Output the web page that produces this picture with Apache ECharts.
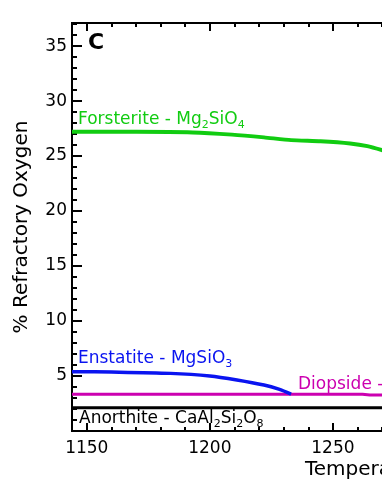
<!DOCTYPE html>
<html>
<head>
<meta charset="utf-8">
<script src="https://cdn.jsdelivr.net/npm/echarts@6/dist/echarts.min.js"></script>
<style>
  html, body { margin: 0; padding: 0; background: #fff; }
  #chart { width: 382px; height: 494px; }
</style>
</head>
<body>
<div id="chart"></div>
<script>
// temperature ticks
var xMajorTicks = [1150, 1200, 1250, 1300]
var xMinorTicks = [1150, 1160, 1170, 1180, 1190, 1200, 1210, 1220, 1230, 1240, 1250, 1260, 1270, 1280, 1290, 1300]
var yMajorTicks = [0, 5, 10, 15, 20, 25, 30, 35]
var yMinorTicks = [0, 1, 2, 3, 4, 5, 6, 7, 8, 9, 10, 11, 12, 13, 14, 15, 16, 17, 18, 19, 20,
  21, 22, 23, 24, 25, 26, 27, 28, 29, 30, 31, 32, 33, 34, 35, 36, 37]

// [temperature, % refractory oxygen]
var forsterite = [[1144, 27.2], [1170, 27.2], [1193, 27.15], [1209, 26.95], [1222, 26.7],
  [1233, 26.45], [1245, 26.35], [1257, 26.15], [1264, 25.9], [1272, 25.4]]
var enstatite = [[1144, 5.39], [1160, 5.36], [1184, 5.24], [1200, 5.0], [1211, 4.64],
  [1222, 4.18], [1228, 3.8], [1233, 3.35]]
var diopside = [[1144, 3.35], [1233, 3.35], [1262, 3.35], [1265, 3.27], [1280, 3.27]]
var anorthite = [[1144, 2.12], [1280, 2.12]]

var FONT = 'DejaVu Sans'
var chart = echarts.init(document.getElementById('chart'))

function xAxisDef(pos, ticks, len, labels) {
  return {
    type: 'value', position: pos, min: 1144, max: 1300,
    axisLine: { show: true, lineStyle: { color: '#000', width: 2 } },
    axisTick: { show: true, inside: true, length: len, customValues: ticks, lineStyle: { color: '#000', width: 2 } },
    axisLabel: labels ? {
      show: true, customValues: xMajorTicks, color: '#000', fontSize: 17, fontFamily: FONT, margin: 9,
      formatter: function (v) { return String(v) }
    } : { show: false },
    splitLine: { show: false }
  }
}
function yAxisDef(ticks, len, labels) {
  return {
    type: 'value', position: 'left', min: 0, max: 37.1,
    axisLine: { show: true, lineStyle: { color: '#000', width: 2 } },
    axisTick: { show: true, inside: true, length: len, customValues: ticks, lineStyle: { color: '#000', width: 2 } },
    axisLabel: labels ? { show: true, customValues: yMajorTicks.slice(1), color: '#000', fontSize: 17, fontFamily: FONT, margin: 5 } : { show: false },
    splitLine: { show: false },
    name: labels ? '% Refractory Oxygen' : '',
    nameLocation: 'middle',
    nameGap: 40,
    nameTextStyle: { color: '#000', fontSize: 20, fontFamily: FONT }
  }
}

var sub = { fontSize: 11, fontFamily: FONT, verticalAlign: 'bottom' }
function lbl(x, y, text, color) {
  return {
    type: 'text', left: x, top: y,
    style: {
      text: text, fill: color, font: '17px "DejaVu Sans"', lineHeight: 22,
      rich: { s: Object.assign({ color: color }, sub), n: { fontSize: 17, fontFamily: FONT, color: color } }
    }
  }
}

var option = {
  animation: false,
  backgroundColor: '#fff',
  grid: { left: 72, top: 23, right: -74, bottom: 63, outerBoundsMode: 'none', containLabel: false },
  xAxis: [
    xAxisDef('bottom', xMajorTicks, 8, true),
    xAxisDef('bottom', xMinorTicks, 4, false),
    xAxisDef('top', xMajorTicks, 8, false),
    xAxisDef('top', xMinorTicks, 4, false)
  ],
  yAxis: [
    yAxisDef(yMajorTicks, 10, true),
    yAxisDef(yMinorTicks, 5, false)
  ],
  series: [
    { name: 'Anorthite', type: 'line', data: anorthite, showSymbol: false, lineStyle: { color: '#000', width: 3 }, z: 3 },
    { name: 'Diopside', type: 'line', data: diopside, showSymbol: false, lineStyle: { color: '#cc00b0', width: 3 }, z: 2 },
    { name: 'Enstatite', type: 'line', data: enstatite, showSymbol: false, smooth: 0.3, lineStyle: { color: '#0a14f0', width: 3.5 }, z: 4 },
    { name: 'Forsterite', type: 'line', data: forsterite, showSymbol: false, smooth: 0.2, lineStyle: { color: '#11cc11', width: 4 }, z: 4 }
  ],
  graphic: [
    { type: 'text', left: 88, top: 32, style: { text: 'C', fill: '#000', font: 'bold 22px "DejaVu Sans"' } },
    lbl(78, 109, '{n|Forsterite - Mg}{s|2}{n|SiO}{s|4}', '#11cc11'),
    lbl(78, 348, '{n|Enstatite - MgSiO}{s|3}', '#0a14f0'),
    lbl(298, 374, '{n|Diopside - CaMgSi}{s|2}{n|O}{s|6}', '#cc00b0'),
    lbl(79, 408, '{n|Anorthite - CaAl}{s|2}{n|Si}{s|2}{n|O}{s|8}', '#000'),
    { type: 'text', left: 305, top: 460, style: { text: 'Temperature (K)', fill: '#000', font: '20px "DejaVu Sans"' } }
  ]
}
chart.setOption(option)
</script>
</body>
</html>
